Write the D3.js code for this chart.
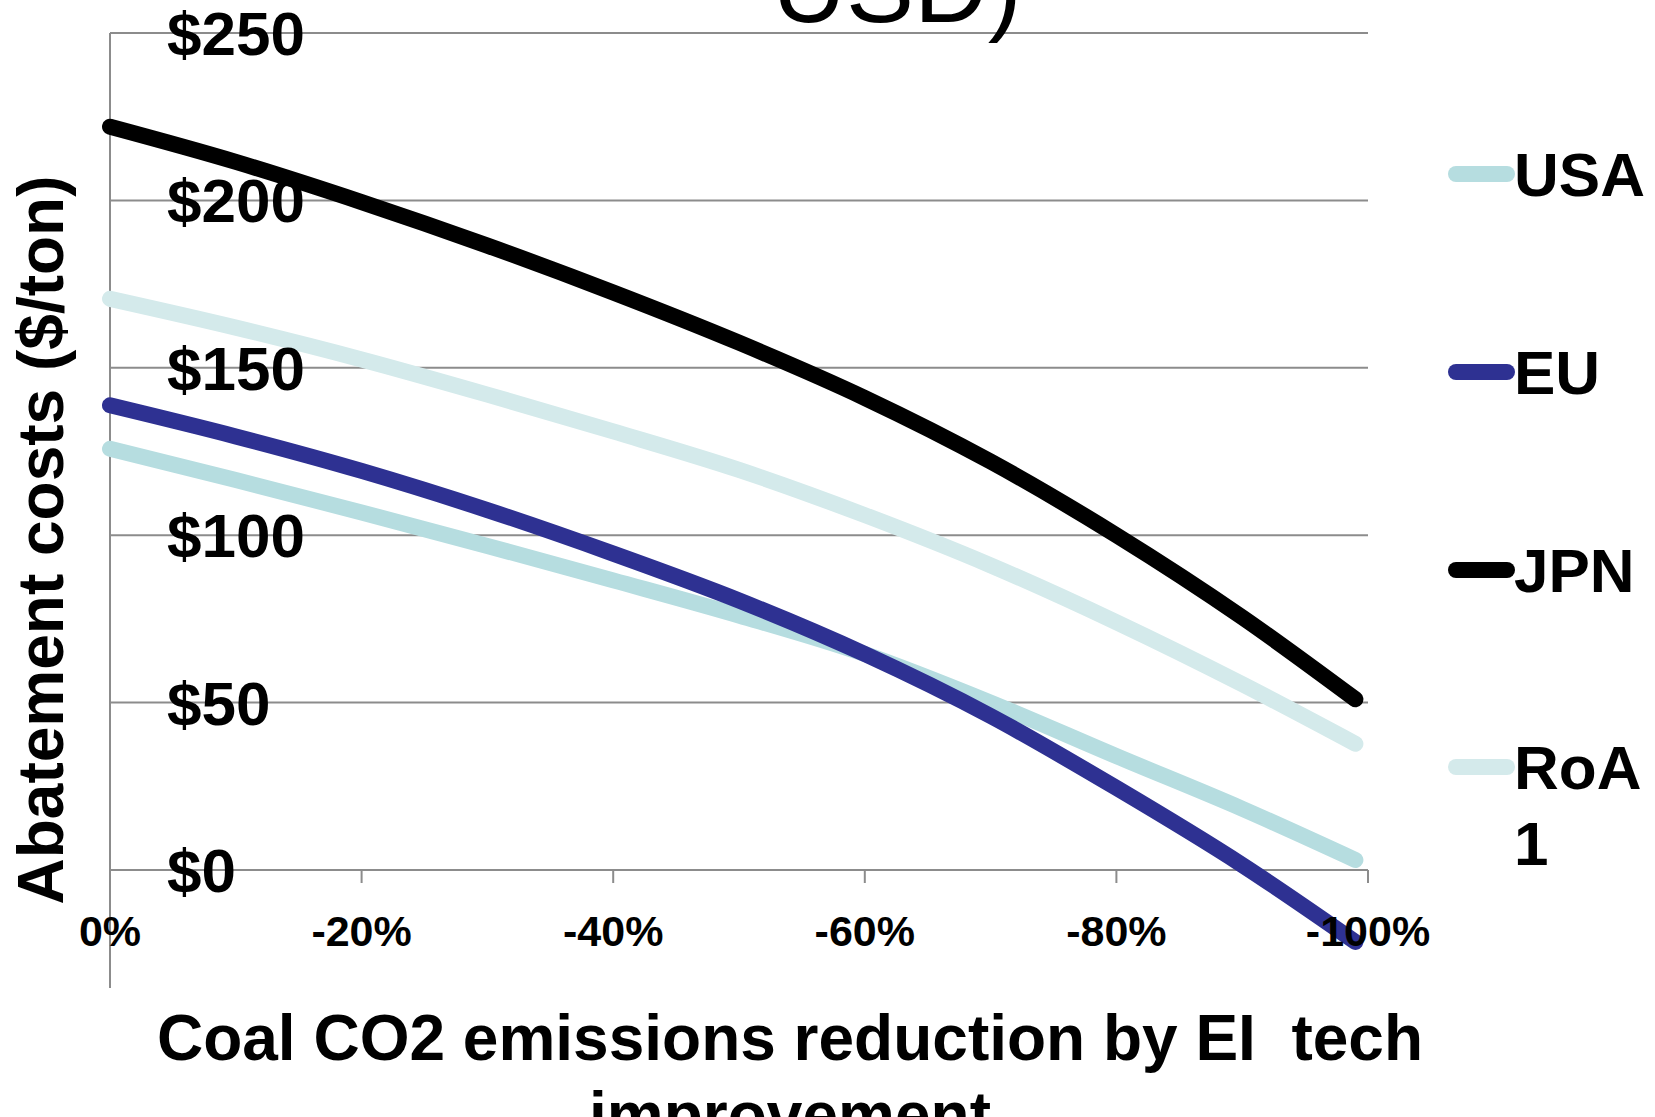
<!DOCTYPE html>
<html>
<head>
<meta charset="utf-8">
<script src="https://cdn.jsdelivr.net/npm/d3@7"></script>
<style>
  html, body { margin: 0; padding: 0; background: #fff; }
  svg { display: block; font-family: "Liberation Sans", Arial, sans-serif; }
</style>
</head>
<body>
<svg id="chart" width="1655" height="1117"></svg>
<script>
// ---- data ----
const reductions = [0, -10, -20, -30, -40, -50, -60, -70, -80, -90, -99];
const usa = [125.8, 116.5, 106.8, 96.8, 86.5, 76, 64.5, 50, 34, 18.3, 3];
const eu  = [138.8, 129.5, 119.2, 107.5, 94.5, 80.5, 64.5, 46, 24.5, 1.5, -21.5];
const jpn = [222, 211.5, 199.5, 186.5, 172.5, 157.5, 141, 122, 100, 75.5, 51];
const roa = [170.6, 162, 152.5, 142, 131, 119.5, 106, 91, 74, 55.5, 37.7];
const seriesNames = ["USA", "EU", "JPN", "RoA 1"];
const seriesColors = ["#b6dde0", "#2e3192", "#000000", "#d4eaeb"];
const yTickValues = [0, 50, 100, 150, 200, 250];
const yTickLabels = ["$0", "$50", "$100", "$150", "$200", "$250"];
const xTickValues = [0, -20, -40, -60, -80, -100];
const xTickLabels = ["0%", "-20%", "-40%", "-60%", "-80%", "-100%"];
const titleText = "USD)";
const yTitle = "Abatement costs ($/ton)";
const xTitleLines = ["Coal CO2 emissions reduction by EI  tech", "improvement"];

const seriesValues = [usa, eu, jpn, roa];

// ---- layout ----
const svg = d3.select("#chart");
const x = d3.scaleLinear().domain([0, -100]).range([110, 1368]);
const y = d3.scaleLinear().domain([0, 250]).range([870, 33]);
const gridColor = "#8c8c8c";

// gridlines
svg.append("g").selectAll("line").data(yTickValues).join("line")
  .attr("x1", x(0)).attr("x2", x(-100))
  .attr("y1", d => y(d)).attr("y2", d => y(d))
  .attr("stroke", gridColor).attr("stroke-width", 2);

// vertical axis line (extends below zero line)
svg.append("line")
  .attr("x1", x(0)).attr("x2", x(0))
  .attr("y1", y(250)).attr("y2", 988)
  .attr("stroke", gridColor).attr("stroke-width", 2);

// x ticks
svg.append("g").selectAll("line").data(xTickValues).join("line")
  .attr("x1", d => x(d)).attr("x2", d => x(d))
  .attr("y1", y(0)).attr("y2", y(0) + 13)
  .attr("stroke", gridColor).attr("stroke-width", 2);

// title fragment
svg.append("text")
  .attr("x", 897).attr("y", 22)
  .attr("text-anchor", "middle")
  .attr("font-size", 102)
  .attr("fill", "#000")
  .text(titleText);

// series lines
const line = d3.line()
  .x((d, i) => x(reductions[i]))
  .y(d => y(d))
  .curve(d3.curveMonotoneX);

svg.append("g").selectAll("path").data(seriesValues).join("path")
  .attr("d", d => line(d))
  .attr("fill", "none")
  .attr("stroke", (d, i) => seriesColors[i])
  .attr("stroke-width", 16)
  .attr("stroke-linecap", "round")
  .attr("stroke-linejoin", "round");

// y tick labels (inside plot)
svg.append("g").selectAll("text").data(yTickValues).join("text")
  .attr("x", 167)
  .attr("y", d => y(d) + 22)
  .attr("font-size", 62)
  .attr("font-weight", "bold")
  .attr("fill", "#000")
  .text((d, i) => yTickLabels[i]);

// x tick labels
svg.append("g").selectAll("text").data(xTickValues).join("text")
  .attr("x", d => x(d))
  .attr("y", 946)
  .attr("text-anchor", "middle")
  .attr("font-size", 43)
  .attr("font-weight", "bold")
  .attr("fill", "#000")
  .text((d, i) => xTickLabels[i]);

// y axis title
svg.append("text")
  .attr("transform", "translate(63,540) rotate(-90)")
  .attr("text-anchor", "middle")
  .attr("font-size", 64)
  .attr("font-weight", "bold")
  .attr("fill", "#000")
  .text(yTitle);

// x axis title
svg.append("g").selectAll("text").data(xTitleLines).join("text")
  .attr("x", 790)
  .attr("y", (d, i) => 1060 + i * 77)
  .attr("text-anchor", "middle")
  .attr("font-size", 64)
  .attr("font-weight", "bold")
  .attr("fill", "#000")
  .style("white-space", "pre")
  .text(d => d);

// legend
const legendY = [174, 372, 570, 767];
const leg = svg.append("g").selectAll("g").data(seriesNames).join("g")
  .attr("transform", (d, i) => `translate(0,${legendY[i]})`);
leg.append("line")
  .attr("x1", 1456).attr("x2", 1507)
  .attr("y1", 0).attr("y2", 0)
  .attr("stroke", (d, i) => seriesColors[i])
  .attr("stroke-width", 16)
  .attr("stroke-linecap", "round");
leg.each(function(d) {
  const parts = d.split(" ");
  const t = d3.select(this).append("text")
    .attr("font-size", 62)
    .attr("font-weight", "bold")
    .attr("fill", "#000");
  parts.forEach((p, j) => {
    t.append("tspan").attr("x", 1514).attr("y", 22 + j * 76).text(p);
  });
});
</script>
</body>
</html>
